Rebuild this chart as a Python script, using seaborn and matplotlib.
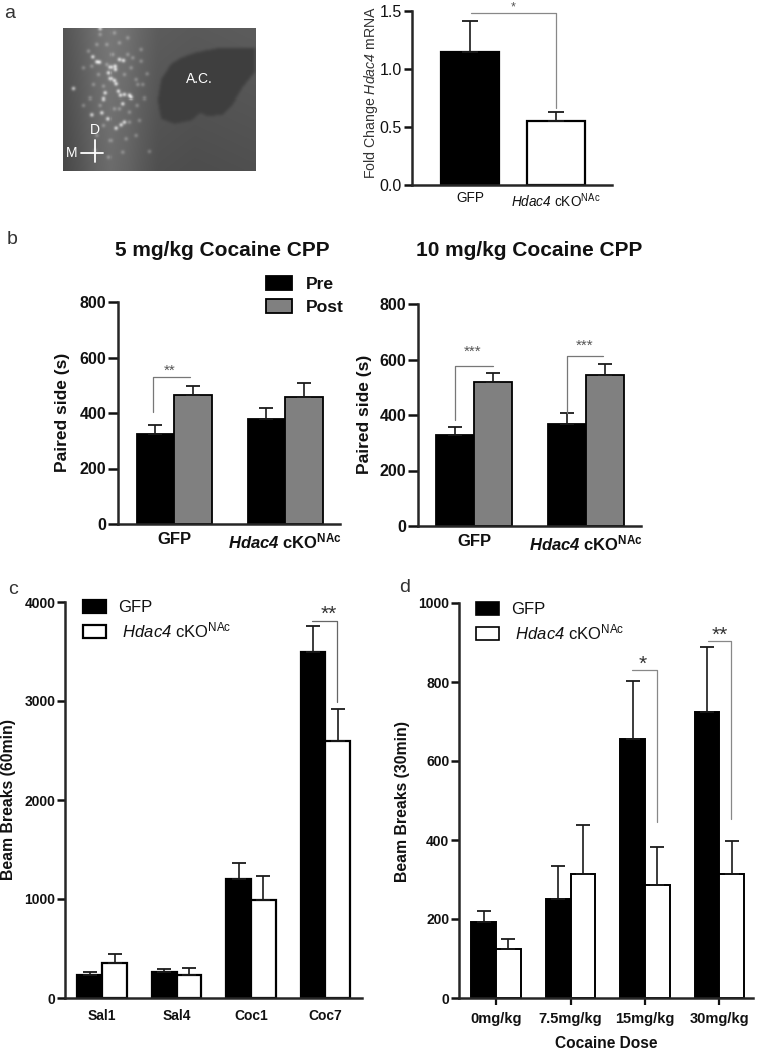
import numpy as np
import pandas as pd
import matplotlib
matplotlib.use("Agg")
import matplotlib.pyplot as plt
from matplotlib.patches import Patch
from matplotlib.path import Path
import seaborn as sns

# ---------- data ----------
a_groups = ["GFP", "KO"]
a_values = [1.15, 0.55]
a_tops = [1.41, 0.63]

b_groups = ["GFP", "KO"]
b_phase = ["Pre", "Post"]
b5_pre = [325, 378]
b5_post = [465, 457]
b5_pre_top = [355, 418]
b5_post_top = [498, 507]
b10_pre = [328, 366]
b10_post = [520, 545]
b10_pre_top = [358, 406]
b10_post_top = [553, 582]

c_days = ["Sal1", "Sal4", "Coc1", "Coc7"]
c_gfp = [235, 260, 1200, 3490]
c_ko = [355, 230, 985, 2595]
c_gfp_top = [260, 295, 1365, 3760]
c_ko_top = [440, 300, 1235, 2920]

d_doses = ["0mg/kg", "7.5mg/kg", "15mg/kg", "30mg/kg"]
d_gfp = [192, 250, 655, 725]
d_ko = [125, 313, 285, 313]
d_gfp_top = [220, 333, 803, 888]
d_ko_top = [150, 438, 382, 398]

# micrograph sketch (coordinates on the photo)
img_x = [10, 60, 110, 150, 200, 240, 290, 400, 580]
img_level = [0.33, 0.38, 0.44, 0.47, 0.44, 0.40, 0.36, 0.35, 0.36]
blob_x = [330, 300, 290, 300, 340, 390, 418, 440, 480, 510, 540, 580, 580, 470, 400, 360]
blob_y = [118, 165, 225, 280, 295, 285, 262, 272, 268, 240, 190, 140, 72, 70, 85, 100]
spot_x = [98, 110, 118, 150, 162, 163, 175, 187, 145, 150, 160, 40, 130, 135, 172, 178,
          190, 205, 210, 185, 165, 95, 180, 190, 165, 125, 143, 120]
spot_y = [97, 112, 113, 128, 125, 135, 105, 108, 145, 162, 168, 192, 222, 205, 200, 212,
          210, 212, 218, 235, 178, 268, 298, 290, 308, 262, 280, 12]
dim_x = [110, 155, 175, 200, 130, 210, 265, 205, 115, 140, 95, 175, 120, 230, 228, 258, 225,
         245, 85, 70, 100, 140, 190, 215, 240, 90, 130, 160, 205, 235, 250, 70, 110, 150, 195,
         225, 120, 160, 200, 240, 105, 145, 185]
dim_y = [60, 90, 55, 90, 185, 130, 378, 290, 150, 120, 125, 250, 240, 180, 240, 148, 165,
         180, 80, 130, 180, 60, 150, 100, 110, 220, 300, 250, 260, 285, 220, 240, 330, 345, 340,
         330, 30, 25, 40, 75, 375, 395, 380]

HD = r"$\mathsf{Hdac4}$ cKO$^{\mathrm{NAc}}$"
HDB = r"$\mathcal{Hdac4}$ cKO$^{\mathbf{NAc}}$"

# ---------- style ----------
sns.set_style("ticks")
plt.rcParams.update({
    "font.family": ["Liberation Sans", "DejaVu Sans"],
    "mathtext.fontset": "custom",
    "mathtext.rm": "Liberation Sans",
    "mathtext.it": "Liberation Sans:italic",
    "mathtext.sf": "Liberation Sans:italic",
    "mathtext.cal": "Liberation Sans:italic:bold",
    "mathtext.bf": "Liberation Sans:bold",
    "axes.linewidth": 1.8,
    "text.color": "#111111",
    "axes.labelcolor": "#111111",
    "xtick.color": "#111111",
    "ytick.color": "#111111",
})
W, H = 758, 1050
fig = plt.figure(figsize=(W / 100, H / 100), dpi=100, facecolor="white")


def axes_px(l, t, r, b):
    return fig.add_axes([l / W, 1 - b / H, (r - l) / W, (b - t) / H], facecolor="none")


def fx(x):
    return x / W


def fy(y):
    return 1 - y / H


def draw_bars(ax, cats, groups, values, tops, palette, width, lw):
    df = pd.DataFrame({
        "cat": [c for g in values for c in cats],
        "group": [n for n, g in zip(groups, values) for _ in cats],
        "val": [v for g in values for v in g],
    })
    sns.barplot(data=df, x="cat", y="val", hue="group", order=cats, hue_order=groups,
                palette=palette, saturation=1, edgecolor="black", linewidth=lw,
                width=width, gap=0, legend=False, errorbar=None, ax=ax)
    flat_vals = [v for g in values for v in g]
    flat_tops = [v for g in tops for v in g]
    bars = [p for p in ax.patches if p.get_width() > 0]
    xs = [p.get_x() + p.get_width() / 2 for p in bars]
    ax.errorbar(xs, flat_vals,
                yerr=[np.zeros(len(xs)), np.array(flat_tops) - np.array(flat_vals)],
                fmt="none", ecolor="#1a1a1a", elinewidth=1.2, capsize=5.2, capthick=1.3, zorder=1)


def finish(ax, xlim, ylim, yticks, ylabels, xlabels, tl, ysize, xsize, weight, xpad, xtick_len=0):
    ax.set_xlim(*xlim)
    ax.set_ylim(*ylim)
    ax.set_xlabel("")
    ax.set_ylabel("")
    ax.set_yticks(yticks, ylabels, fontsize=ysize, fontweight=weight)
    ax.set_xticks(range(len(xlabels)), xlabels, fontsize=xsize, fontweight=weight)
    ax.tick_params(axis="y", length=tl, width=1.8, pad=1.5)
    ax.tick_params(axis="x", length=xtick_len, width=1.6, pad=xpad)
    sns.despine(ax=ax)


def ylabel(text, x, y, size, weight="bold", color="#111111"):
    fig.text(fx(x), fy(y), text, rotation=90, ha="center", va="center",
             fontsize=size, fontweight=weight, color=color)


def legend(ax, handles, labels, x, y, size, spacing, pad, hl=1.6, hh=0.85, weight="normal"):
    lg = ax.legend(handles, labels, loc="upper left", bbox_to_anchor=(fx(x), fy(y)),
                   bbox_transform=fig.transFigure, frameon=False, borderpad=0, borderaxespad=0,
                   fontsize=size, handlelength=hl, handleheight=hh, labelspacing=spacing,
                   handletextpad=pad, prop={"size": size, "weight": weight})
    return lg


# ---------- panel letters ----------
for letter, x, y in [("a", 10, 13), ("b", 12, 240), ("c", 13, 589), ("d", 405, 588)]:
    fig.text(fx(x), fy(y), letter, fontsize=14, ha="center", va="center", color="#333333")

# ---------- a: micrograph ----------
ax_img = axes_px(63, 28, 256, 171)
gx, gy = np.meshgrid(np.arange(10, 581, 3), np.arange(12, 436, 3))
base = np.interp(gx, img_x, img_level) - 0.05 * (gy - 12) / 424
pts = np.column_stack([gx.ravel(), gy.ravel()])
mask = Path(np.column_stack([blob_x, blob_y])).contains_points(pts).reshape(gx.shape)
base = np.where(mask, 0.245, base)
kernel = np.ones(3) / 3
for _ in range(3):
    base = np.apply_along_axis(lambda r: np.convolve(np.pad(r, 1, mode="edge"), kernel, "valid"), 1, base)
    base = np.apply_along_axis(lambda r: np.convolve(np.pad(r, 1, mode="edge"), kernel, "valid"), 0, base)
for sx, sy in zip(spot_x, spot_y):
    base = base + 0.34 * np.exp(-((gx - sx) ** 2 + (gy - sy) ** 2) / (2 * 4.5 ** 2))
for sx, sy in zip(dim_x, dim_y):
    base = base + 0.13 * np.exp(-((gx - sx) ** 2 + (gy - sy) ** 2) / (2 * 4.5 ** 2))
sns.heatmap(np.clip(base, 0, 1), ax=ax_img, cmap="gray", vmin=0, vmax=1, cbar=False,
            xticklabels=False, yticklabels=False, square=False)
ax_img.set_xlim(0, base.shape[1])
ax_img.set_ylim(base.shape[0], 0)
for s in ax_img.spines.values():
    s.set_visible(False)
ax_img.tick_params(length=0)
to_x = lambda v: (v - 10) / 3
to_y = lambda v: (v - 12) / 3
ax_img.text(to_x(415), to_y(165), "A.C.", color="white", fontsize=10, ha="center", va="center")
ax_img.text(to_x(105), to_y(315), "D", color="white", fontsize=10, ha="center", va="center")
ax_img.text(to_x(35), to_y(383), "M", color="white", fontsize=10, ha="center", va="center")
ax_img.plot([to_x(105)] * 2, [to_y(345), to_y(410)], color="white", lw=1.3)
ax_img.plot([to_x(62), to_x(130)], [to_y(385)] * 2, color="white", lw=1.3)

# ---------- a: bars ----------
ax = axes_px(412, 11, 612, 185)
df_a = pd.DataFrame({"group": a_groups, "val": a_values})
sns.barplot(data=df_a, x="group", y="val", hue="group", order=a_groups, hue_order=a_groups,
            palette={"GFP": "black", "KO": "white"}, saturation=1, edgecolor="black", linewidth=1.6,
            width=0.67, legend=False, errorbar=None, ax=ax)
ax.errorbar(range(2), a_values, yerr=[[0, 0], np.array(a_tops) - np.array(a_values)],
            fmt="none", ecolor="#1a1a1a", elinewidth=1.2, capsize=5.5, capthick=1.3, zorder=1)
finish(ax, (-0.674, 1.65), (0, 1.5), [0, 0.5, 1.0, 1.5], ["0.0", "0.5", "1.0", "1.5"],
       ["GFP", HD], 6, 11.5, 9.8, "normal", 4.5)
ax.plot([0.01, 1.0, 1.0], [1.483, 1.483, 0.664], color="#888888", lw=0.9, clip_on=False)
ax.text(0.5, 1.535, "*", ha="center", va="center", fontsize=9, color="#555555", clip_on=False)
ylabel(r"Fold Change $\mathsf{Hdac4}$ mRNA", 371, 92, 10.2, "normal", "#333333")

# ---------- b ----------
pal_b = {"Pre": "black", "Post": "#808080"}
ax = axes_px(118, 302, 340, 524)
draw_bars(ax, b_groups, b_phase, [b5_pre, b5_post], [b5_pre_top, b5_post_top], pal_b, 0.676, 1.3)
finish(ax, (-0.505, 1.495), (0, 800), [0, 200, 400, 600, 800], ["0", "200", "400", "600", "800"],
       ["GFP", HDB], 7, 11.5, 12, "bold", 5.5)
ax.plot([-0.19, -0.19, 0.144], [405, 529, 529], color="#777777", lw=0.9, clip_on=False)
ax.text(-0.036, 552, "**", ha="center", va="center", fontsize=11, color="#555555")
ylabel("Paired side (s)", 63, 412, 12.5)
fig.text(fx(222), fy(251), "5 mg/kg Cocaine CPP", fontsize=15, fontweight="bold", ha="center", va="center")
legend(ax, [Patch(fc="black", ec="black", lw=1.3), Patch(fc="#808080", ec="black", lw=1.3)],
       b_phase, 266, 276, 12.6, 0.42, 0.8, hl=1.5, hh=0.85, weight="bold")

ax = axes_px(418, 304, 641, 526)
draw_bars(ax, b_groups, b_phase, [b10_pre, b10_post], [b10_pre_top, b10_post_top], pal_b, 0.676, 1.3)
finish(ax, (-0.5, 1.49), (0, 800), [0, 200, 400, 600, 800], ["0", "200", "400", "600", "800"],
       ["GFP", HDB], 7, 11.5, 12, "bold", 5.5)
ax.plot([-0.17, -0.17, 0.17], [382, 576, 576], color="#777777", lw=0.9, clip_on=False)
ax.plot([0.83, 0.83, 1.15], [407, 612, 612], color="#777777", lw=0.9, clip_on=False)
ax.text(-0.01, 628, "***", ha="center", va="center", fontsize=11, color="#555555")
ax.text(0.99, 650, "***", ha="center", va="center", fontsize=11, color="#555555")
ylabel("Paired side (s)", 365, 414, 12.5)
fig.text(fx(529), fy(251), "10 mg/kg Cocaine CPP", fontsize=15, fontweight="bold", ha="center", va="center")

# ---------- c ----------
pal_c = {"GFP": "black", "KO": "white"}
ax = axes_px(65, 602, 362, 998)
draw_bars(ax, c_days, ["GFP", "KO"], [c_gfp, c_ko], [c_gfp_top, c_ko_top], pal_c, 0.67, 1.6)
finish(ax, (-0.497, 3.49), (0, 4000), [0, 1000, 2000, 3000, 4000], ["0", "1000", "2000", "3000", "4000"],
       c_days, 5.5, 10, 10, "bold", 8)
ax.plot([2.825, 3.16, 3.16], [3808, 3808, 2990], color="#666666", lw=0.9, clip_on=False)
ax.text(3.05, 3880, "**", ha="center", va="center", fontsize=15, color="#333333", clip_on=False)
ylabel("Beam Breaks (60min)", 9, 800, 11.4)
legend(ax, [Patch(fc="black", ec="black", lw=1.6), Patch(fc="white", ec="black", lw=1.6)],
       ["GFP", " " + HD], 83, 600, 12, 0.3, 0.75, hl=1.35, hh=0.85)

# ---------- d ----------
ax = axes_px(459, 603, 753, 998)
draw_bars(ax, d_doses, ["GFP", "KO"], [d_gfp, d_ko], [d_gfp_top, d_ko_top], pal_c, 0.67, 1.4)
finish(ax, (-0.497, 3.45), (0, 1000), [0, 200, 400, 600, 800, 1000], ["0", "200", "400", "600", "800", "1000"],
       d_doses, 5.5, 10, 10.5, "bold", 5, xtick_len=5)
ax.plot([1.825, 2.16, 2.16], [830, 830, 445], color="#888888", lw=0.9, clip_on=False)
ax.plot([2.84, 3.16, 3.16], [904, 904, 453], color="#888888", lw=0.9, clip_on=False)
ax.text(1.97, 845, "*", ha="center", va="center", fontsize=15, color="#333333")
ax.text(3.0, 918, "**", ha="center", va="center", fontsize=15, color="#333333")
ylabel("Beam Breaks (30min)", 403, 801, 11.4)
fig.text(fx(606), fy(1043), "Cocaine Dose", fontsize=11.2, fontweight="bold", ha="center", va="center")
legend(ax, [Patch(fc="black", ec="black", lw=1.2), Patch(fc="white", ec="black", lw=1.2)],
       ["GFP", " " + HD], 476, 602, 12, 0.3, 0.75, hl=1.35, hh=0.85)

fig.savefig("out.png", dpi=100, facecolor="white")
